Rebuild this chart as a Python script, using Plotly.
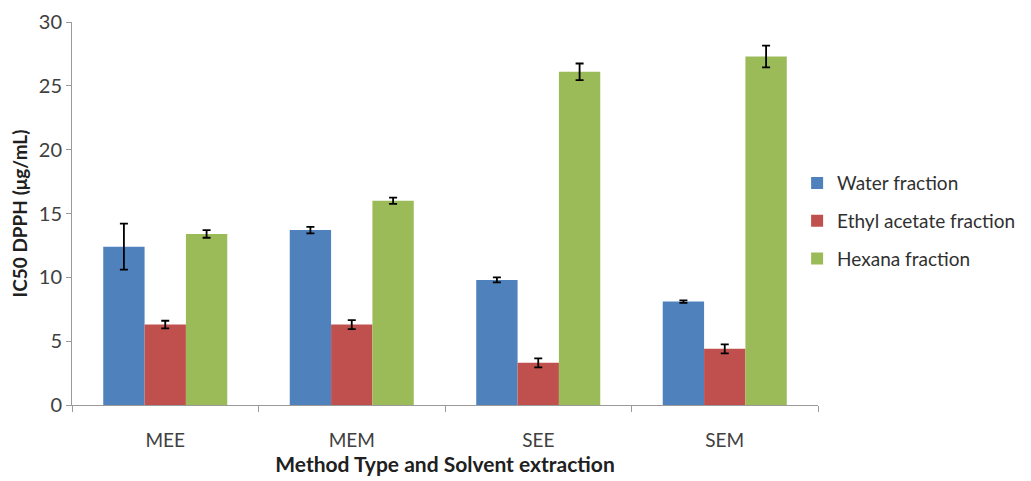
import plotly.graph_objects as go

# Extraction methods on the x axis
methods = ["MEE", "MEM", "SEE", "SEM"]

# IC50 DPPH values (µg/mL) per solvent fraction
water = [12.4, 13.7, 9.8, 8.1]
ethyl_acetate = [6.3, 6.3, 3.3, 4.4]
hexana = [13.4, 16.0, 26.1, 27.3]

# Standard deviations shown as error bars
water_sd = [1.8, 0.25, 0.2, 0.1]
ethyl_acetate_sd = [0.3, 0.35, 0.35, 0.35]
hexana_sd = [0.3, 0.25, 0.65, 0.85]

series = [
    ("Water fraction", water, water_sd, "#4F81BD"),
    ("Ethyl acetate fraction", ethyl_acetate, ethyl_acetate_sd, "#C0504D"),
    ("Hexana fraction", hexana, hexana_sd, "#9BBB59"),
]

fig = go.Figure()
for name, vals, sd, color in series:
    fig.add_trace(go.Bar(
        name=name, x=methods, y=vals, legendgroup=name,
        marker=dict(color=color, line=dict(width=0)),
        error_y=dict(type="data", array=sd, visible=True,
                     color="black", thickness=1.8, width=4),
    ))

font_family = "Lato, 'Open Sans', sans-serif"
fig.update_layout(
    width=1031, height=481,
    margin=dict(l=72, r=213, t=22, b=76, autoexpand=False),
    paper_bgcolor="white", plot_bgcolor="white",
    barmode="group", bargap=0.335, bargroupgap=0,
    font=dict(family=font_family, color="#404040", size=15),
    legend=dict(x=0.972, xanchor="left", y=0.48, yanchor="middle",
                font=dict(size=19, color="#303030"),
                tracegroupgap=10, itemwidth=30),
    xaxis=dict(
        automargin=False,
        showline=True, linecolor="#9a9a9a", linewidth=1,
        ticks="outside", tickson="boundaries", ticklen=6, tickcolor="#9a9a9a",
        tickfont=dict(size=19, color="#404040"),
        ticklabelstandoff=18,
        title=dict(text="<b>Method Type and Solvent extraction</b>",
                   font=dict(size=21, color="#202020"), standoff=2),
    ),
    yaxis=dict(
        automargin=False,
        range=[0, 30], dtick=5, showgrid=False, zeroline=False,
        showline=True, linecolor="#9a9a9a", linewidth=1,
        ticks="outside", ticklen=5, tickcolor="#9a9a9a",
        tickfont=dict(size=20, color="#404040"),
        title=dict(text="<b>IC50 DPPH (μg/mL)</b>",
                   font=dict(size=19, color="#202020"), standoff=6),
    ),
)

fig.write_html("out.html")
